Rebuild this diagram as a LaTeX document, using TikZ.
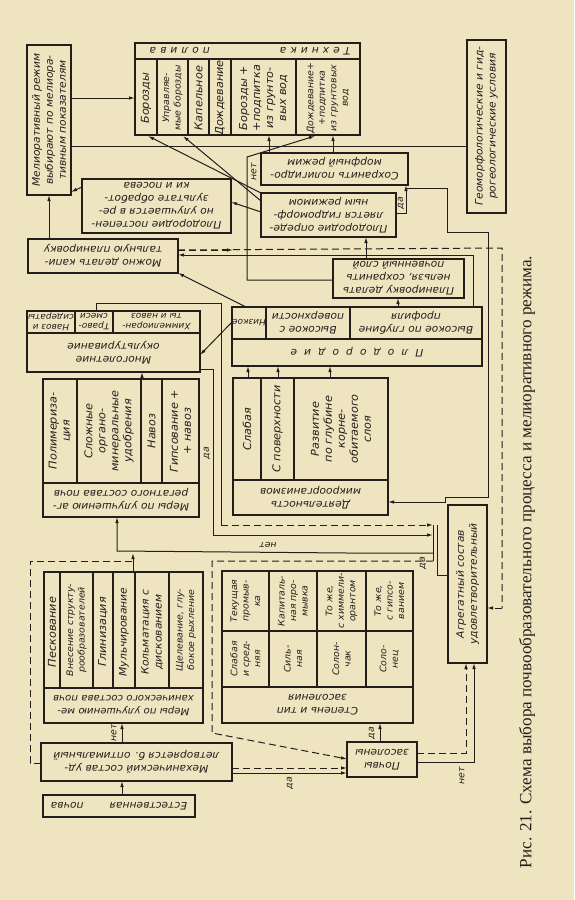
\documentclass[tikz,border=0pt]{standalone}
\usepackage{fontspec}
\setmainfont{DejaVu Sans}[FakeStretch=1.04]
\newfontfamily\capfont{Liberation Serif}
\usetikzlibrary{arrows.meta,calc}
\definecolor{paper}{RGB}{238,228,192}
\definecolor{ink}{RGB}{34,30,27}
\newcommand\mybox[5]{\node[bx, anchor=north west, minimum width={(#4)-(#2)}, minimum height={(#5)-(#3)}] (#1) at (#2,#3) {};}
\newcommand\spc[1]{\hspace{#1pt}}
\begin{document}
\begin{tikzpicture}[x=1pt,y=-1pt,
  bx/.style={draw=ink, line width=1.5pt, inner sep=0pt, outer sep=0pt, rectangle},
  ln/.style={draw=ink, line width=1pt},
  arr/.style={ln, -{Latex[length=6pt,width=3.5pt]}},
  dsh/.style={ln, dash pattern=on 7pt off 4pt},
  dsha/.style={dsh, -{Latex[length=6pt,width=3.5pt]}},
  t180/.style={rotate=180, font=\itshape\fontsize{10.3}{13}\selectfont, align=center, text=ink, inner sep=0pt},
  t90/.style={rotate=90, font=\itshape\fontsize{10.8}{13}\selectfont, align=center, text=ink, inner sep=0pt},
  small/.style={font=\itshape\fontsize{9}{11.5}\selectfont},
  lab/.style={font=\itshape\fontsize{9}{9}\selectfont, text=ink, inner sep=0pt},
  sep/.style={draw=ink, line width=1.3pt}]
\fill[paper] (0,0) rectangle (574,900);
\useasboundingbox (0,0) rectangle (574,900);

% ---------- boxes ----------
\mybox{meliorez}{27}{45}{71}{195}
\node[t90, font=\itshape\fontsize{10.3}{13}\selectfont] (meliorezt) at (49,120) {Мелиоративный режим\\выбирают по мелиора-\\тивным показателям};

\mybox{tech}{135}{43}{360}{135}
\draw[sep] (135,59) -- (360,59);
\foreach \xx in {157,188,209,231,296} \draw[sep] (\xx,59) -- (\xx,135);
\node[t180] (techh) at (250,51) {Т\spc4е\spc4х\spc4н\spc4и\spc4к\spc4а\spc{70}п\spc4о\spc4л\spc4и\spc4в\spc4а};
\node[t90] (tc1) at (146,98) {Борозды};
\node[t90, small] (tc2) at (172.5,98) {Управляе-\\мые борозды};
\node[t90] (tc3) at (198.5,98) {Капельное};
\node[t90] (tc4) at (220,98) {Дождевание};
\node[t90] (tc5) at (263.5,98) {Борозды +\\+подпитка\\из грунто-\\вых вод};
\node[t90, small] (tc6) at (328,98) {Дождевание+\\+подпитка\\из грунтовых\\вод};

\mybox{geo}{467}{40}{506}{213}
\node[t90, font=\itshape\fontsize{10.3}{13}\selectfont] (geot) at (486.5,126) {Геоморфологические и гид-\\рогеологические условия};

\mybox{save}{261}{153}{408}{185}
\node[t180] (savet) at (334.5,169) {Сохранить полигидро-\\морфный режим};

\mybox{fertgm}{261}{193}{396}{237}
\node[t180] (fertgmt) at (328.5,215) {Плодородие опреде-\\ляется гидроморф-\\ным режимом};

\mybox{fertimp}{82}{179}{231}{233}
\node[t180] (fertimpt) at (156.5,206) {Плодородие постепен-\\но улучшается в ре-\\зультате обработ-\\ки и посева};

\mybox{capplan}{28}{239}{178}{273}
\node[t180] (capplant) at (103,256) {Можно делать капи-\\тальную планировку};

\mybox{mnog}{27}{311}{200}{372}
\draw[sep] (27,333) -- (200,333);
\draw[sep] (75,311) -- (75,333);
\draw[sep] (113,311) -- (113,333);
\node[t180] (mnogh) at (113.5,352.5) {Многолетние\\окультуривание};
\node[t180, font=\itshape\fontsize{8.6}{10}\selectfont] (mc1) at (156.5,322) {Химмелиоран-\\ты и навоз};
\node[t180, font=\itshape\fontsize{8.6}{10}\selectfont] (mc2) at (94,322) {Траво-\\смеси};
\node[t180, font=\itshape\fontsize{8.6}{10}\selectfont] (mc3) at (51,322) {Навоз и\\сидераты};

\mybox{fert}{232}{307}{482}{366}
\draw[sep] (232,339) -- (482,339);
\draw[sep] (266,307) -- (266,339);
\draw[sep] (350,307) -- (350,339);
\node[t180] (ferth) at (357,352.5) {П\spc7л\spc7о\spc7д\spc7о\spc7р\spc7о\spc7д\spc7и\spc7е};
\node[t180, font=\itshape\fontsize{8.6}{10}\selectfont] (fc1) at (249,323) {Низкое};
\node[t180] (fc2) at (308,323) {Высокое с\\поверхности};
\node[t180] (fc3) at (416,323) {Высокое по глубине\\профиля};

\mybox{noplan}{333}{259}{464}{298}
\node[t180] (noplant) at (398.5,278.5) {Планировку делать\\нельзя, сохранить\\почвенный слой};

\mybox{agr}{43}{379}{199}{517}
\draw[sep] (43,483) -- (199,483);
\foreach \xx in {77,141,162} \draw[sep] (\xx,379) -- (\xx,483);
\node[t180] (agrh) at (121,500) {Меры по улучшению аг-\\регатного состава почв};
\node[t90] (ac1) at (60,431) {Полимериза-\\ция};
\node[t90] (ac2) at (109,431) {Сложные\\органо-\\минеральные\\удобрения};
\node[t90] (ac3) at (151.5,431) {Навоз};
\node[t90] (ac4) at (180.5,431) {Гипсование +\\+ навоз};

\mybox{micro}{233}{378}{388}{515}
\draw[sep] (233,480) -- (388,480);
\foreach \xx in {261,294} \draw[sep] (\xx,378) -- (\xx,480);
\node[t180] (microh) at (310.5,497.5) {Деятельность\\микроорганизмов};
\node[t90] (mic1) at (247,429) {Слабая};
\node[t90] (mic2) at (277.5,429) {С поверхности};
\node[t90] (mic3) at (341,429) {Развитие\\по глубине\\корне-\\обитаемого\\слоя};

\mybox{aggsat}{448}{505}{487}{663}
\node[t90, font=\itshape\fontsize{10.3}{13}\selectfont] (aggsatt) at (467.5,584) {Агрегатный состав\\удовлетворительный};

\mybox{mechm}{44}{572}{203}{723}
\draw[sep] (44,688) -- (203,688);
\foreach \xx in {60,93,113,135,169} \draw[sep] (\xx,572) -- (\xx,688);
\node[t180, font=\itshape\fontsize{9.8}{13}\selectfont] (mechmh) at (123.5,705.5) {Меры по улучшению ме-\\ханического состава почв};
\node[t90] (mm1) at (52,632) {Пескование};
\node[t90, small] (mm2) at (76.5,630) {Внесение структу-\\рообразователей};
\node[t90] (mm3) at (103,632) {Глинизация};
\node[t90, font=\itshape\fontsize{10.3}{13}\selectfont] (mm4) at (124,632) {Мульчирование};
\node[t90, font=\itshape\fontsize{10.3}{13}\selectfont] (mm5) at (152,632) {Кольматация с\\дискованием};
\node[t90, small] (mm6) at (186,630) {Щелевание, глу-\\бокое рыхление};

\mybox{salt}{222}{571}{413}{723}
\draw[sep] (222,631) -- (413,631);
\draw[sep] (222,687) -- (413,687);
\foreach \xx in {269,317,366} \draw[sep] (\xx,571) -- (\xx,687);
\node[t180] (salth) at (317.5,705) {Степень и тип\\засоления};
\node[t90, small] (su1) at (245.5,601) {Текущая\\промыв-\\ка};
\node[t90, small] (su2) at (293,601) {Капиталь-\\ная про-\\мывка};
\node[t90, small] (su3) at (341.5,601) {То же,\\с химмели-\\орантом};
\node[t90, small] (su4) at (389.5,601) {То же,\\с гипсо-\\ванием};
\node[t90, small] (sl1) at (245.5,659) {Слабая\\и сред-\\няя};
\node[t90, small] (sl2) at (293,659) {Силь-\\ная};
\node[t90, small] (sl3) at (341.5,659) {Солон-\\чак};
\node[t90, small] (sl4) at (389.5,659) {Соло-\\нец};

\mybox{salted}{347}{742}{417}{777}
\node[t180] (saltedt) at (382,759.5) {Почвы\\засолены};

\mybox{mech}{41}{743}{232}{781}
\node[t180] (mecht) at (136.5,762) {Механический состав уд-\\летворяется б. оптимальный};

\mybox{nat}{43}{795}{195}{817}
\node[t180] (natt) at (119,806) {Естественная\hspace{26pt}почва};

\node[rotate=90, text=ink, inner sep=0pt] (cap) at (527,562) {\resizebox{612pt}{!}{\capfont\fontsize{14}{14}\selectfont Рис. 21. Схема выбора почвообразовательного процесса и мелиоративного режима.}};

% ---------- connectors ----------
\draw[arr] (nat.north -| 122,0) -- (mech.south -| 122,0);
\draw[arr] (mech.north -| 122,0) -- (mechm.south -| 122,0);
\node[lab, rotate=90] (l1) at (114,733) {нет};
\draw[dsh] (mech.west |- 0,763) -- (30,763) -- (30,561) -- (133,561);
\draw[arr] (mechm.north -| 133,0) -- (133,553);
\draw[arr] (433,553) -- (347,553) -- (117,551) -- (agr.south -| 117,0);
\node[lab, rotate=180] (l2) at (268,545) {нет};
\draw[arr] (mech.east |- 0,773) -- (salted.west |- 0,773);
\node[lab, rotate=90] (l3) at (290,783) {да};
\draw[dsha] (mech.east |- 0,768) -- (salted.west |- 0,768);
\draw[dsha] (433,561) -- (212,561) -- (212,733) -- (salted.west |- 0,759);
\draw[arr] (salted.north -| 380,0) -- (salt.south -| 380,0);
\node[lab, rotate=90] (l4) at (372,733) {да};
\draw[arr] (salted.east |- 0,762) -- (474,762) -- (aggsat.south -| 474,0);
\node[lab, rotate=90] (l5) at (462,776) {нет};
\draw[dsha] (salted.east |- 0,753) -- (466,753) -- (aggsat.south -| 466,0);
\draw[dsh] (capplan.east |- 0,250) -- (502,248) -- (502,608);
\draw[dsha] (502,608) -- (aggsat.east |- 0,608);
\draw[dsha] (capplan.east |- 0,250) -- (233,250);
\draw[arr] (fert.north -| 473,0) -- (473,255) -- (capplan.east |- 0,255);
\draw[arr] (fert.north -| 398,0) -- (noplan.south -| 398,0);
\draw[arr] (noplan.north -| 366,0) -- (fertgm.south -| 366,0);
\draw[arr] (noplan.west |- 0,280) -- (247,280) -- (247,157) -- (315,136);
\node[lab, rotate=90] (l6) at (254,172) {нет};
\draw[arr] (fertgm.west |- 0,212) -- (fertimp.east |- 0,202);
\draw[arr] (fertimp.west |- 0,187) -- (meliorez.east |- 0,192);
\draw[arr] (capplan.north -| 49,0) -- (meliorez.south -| 49,0);
\draw[arr] (meliorez.east |- 0,98) -- (tech.west |- 0,98);
\draw[ln] (meliorez.east |- 0,146) -- (geo.west |- 0,146);
\draw[arr] (save.north -| 269,0) -- (tech.south -| 269,0);
\draw[arr] (save.north -| 333,0) -- (tech.south -| 333,0);
\draw[arr] (fertgm.north west) -- (148,136);
\draw[arr] ($(fertgm.north west)+(0,8)$) -- (183,136);
\draw[arr] (fert.north -| 246,0) -- (capplan.south east);
\draw[arr] (fert.west |- 0,322) -- (mnog.east |- 0,355);
\foreach \xx in {248,278,330} \draw[arr] (micro.north -| \xx,0) -- (fert.south -| \xx,0);
\draw[arr] (agr.north -| 142,0) -- (mnog.south -| 142,0);
\draw[ln] (mnog.north -| 96,0) -- (96,303) -- (221,303) -- (221,525);
\draw[dsha] (221,525) -- (433,525);
\draw[ln] (mnog.east |- 0,369) -- (213,369) -- (213,535);
\draw[arr] (213,535) -- (433,535);
\node[lab, rotate=90] (l7) at (207,453) {да};
\draw[arr] (fertgm.east |- 0,213) -- (406,213) -- (save.south -| 406,0);
\node[lab, rotate=90] (l8) at (401,203) {да};
\draw[arr] (406,188) -- (447,188) -- (447,232) -- (488,232) -- (488,497) -- (445,497) -- (445,502) -- (micro.east |- 0,502);
\draw[ln] (433,525) -- (433,561);
\draw[ln] (437,525) -- (437,575) -- (aggsat.west |- 0,575);
\node[lab, rotate=90] (l9) at (423,563) {да};
\end{tikzpicture}
\end{document}
